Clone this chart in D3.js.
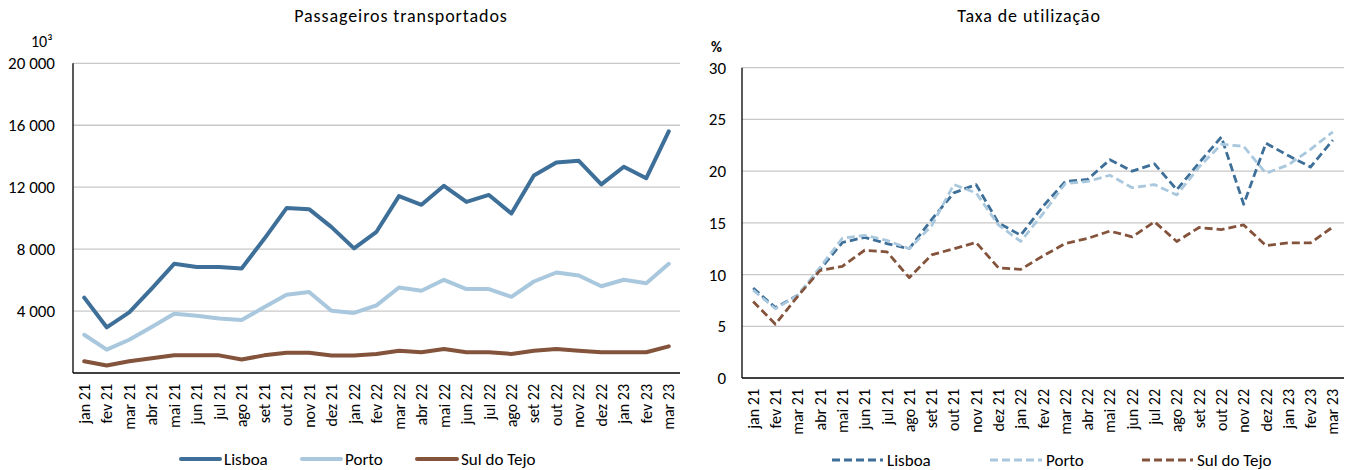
<!DOCTYPE html>
<html><head><meta charset="utf-8">
<script src="https://cdn.jsdelivr.net/npm/d3@7"></script>
<style>body{margin:0;background:#fff}svg{display:block}text{font-family:Carlito,Lato,"Open Sans",sans-serif;fill:#000}</style>
</head><body><svg id="c" width="1347" height="470"></svg>
<script>
const months = ["jan 21","fev 21","mar 21","abr 21","mai 21","jun 21","jul 21","ago 21","set 21","out 21","nov 21","dez 21","jan 22","fev 22","mar 22","abr 22","mai 22","jun 22","jul 22","ago 22","set 22","out 22","nov 22","dez 22","jan 23","fev 23","mar 23"];
const seriesNames = ["Lisboa","Porto","Sul do Tejo"];
const paxLisboa = [4870,2950,3910,5450,7050,6850,6850,6750,8650,10650,10580,9420,8050,9120,11420,10860,12090,11050,11500,10300,12750,13600,13700,12180,13320,12580,15610];
const paxPorto = [2470,1510,2150,2970,3830,3700,3520,3420,4240,5050,5230,4020,3880,4370,5520,5310,6020,5420,5420,4920,5910,6490,6300,5600,6020,5800,7050];
const paxSul = [760,480,760,950,1140,1140,1140,870,1140,1310,1310,1130,1130,1230,1440,1340,1550,1340,1340,1230,1440,1550,1440,1340,1340,1340,1720];
const taxaLisboa = [8.7,6.8,8.0,10.5,13.1,13.6,13.0,12.5,15.3,17.9,18.7,15.0,13.8,16.6,19.0,19.2,21.1,20.0,20.7,18.2,20.8,23.3,16.8,22.7,21.5,20.4,23.0];
const taxaPorto = [8.5,6.7,8.0,10.7,13.5,13.8,13.3,12.5,14.7,18.7,17.9,14.8,13.2,15.9,18.8,19.0,19.6,18.4,18.7,17.7,20.4,22.6,22.4,19.8,20.6,22.1,23.8];
const taxaSul = [7.4,5.2,7.9,10.4,10.8,12.35,12.2,9.7,11.9,12.5,13.1,10.65,10.5,11.8,13.0,13.5,14.2,13.65,15.1,13.2,14.55,14.35,14.8,12.8,13.06,13.06,14.6];
const leftTicks = [4000,8000,12000,16000,20000];
const rightTicks = [0,5,10,15,20,25,30];
const colors = ["#3d6f98","#a9c8de","#84533c"];

const svg = d3.select("#c");
const fmt = v => d3.format(",")(v).replace(/,/g," ");

function panel(o){
  const g = svg.append("g");
  const x = d3.scaleBand().domain(months).range([o.x0,o.x1]);
  const y = d3.scaleLinear().domain(o.domain).range([o.y1,o.y0]);
  g.selectAll("line.grid").data(o.ticks.filter(t=>t!==o.domain[0])).join("line")
    .attr("x1",o.x0).attr("x2",o.x1).attr("y1",d=>y(d)).attr("y2",d=>y(d))
    .attr("stroke","#c8c8c8").attr("stroke-width",1.3);
  const ya = g.append("g").attr("transform",`translate(${o.x0},0)`)
    .call(d3.axisLeft(y).tickValues(o.ticks).tickSize(0).tickPadding(o.ypad).tickFormat(fmt));
  ya.select(".domain").remove();
  ya.selectAll("text").style("font-size","17px").style("font-family","Carlito,Lato,sans-serif").attr("fill","#000");
  g.append("line").attr("x1",o.x0).attr("x2",o.x0).attr("y1",o.y0).attr("y2",o.y1).attr("stroke","#000").attr("stroke-width",1.3);
  const xa = g.append("g").attr("transform",`translate(0,${o.y1})`)
    .call(d3.axisBottom(x).tickSize(0).tickPadding(0));
  xa.select(".domain").remove();
  xa.selectAll("text").attr("transform","rotate(-90)").attr("text-anchor","end")
    .attr("x",-11).attr("y",0).attr("dy","0.35em")
    .style("font-size","16px").style("font-family","Carlito,Lato,sans-serif").attr("fill","#000");
  g.append("line").attr("x1",o.x0).attr("x2",o.x1).attr("y1",o.y1).attr("y2",o.y1).attr("stroke","#000").attr("stroke-width",1.3);
  const line = d3.line().x((d,i)=>x(months[i])+x.bandwidth()/2).y(d=>y(d));
  o.series.forEach((s,k)=>{
    g.append("path").datum(s).attr("d",line).attr("fill","none")
      .attr("stroke",colors[k]).attr("stroke-width",o.lw)
      .attr("stroke-linejoin","round").attr("stroke-linecap",o.dash?"butt":"round")
      .attr("stroke-dasharray",o.dash||null);
  });
  g.append("text").attr("x",o.tx).attr("y",22).attr("text-anchor","middle")
    .style("font-size","18px").style("letter-spacing","0.9px").text(o.title);
  o.legend.forEach((L,k)=>{
    g.append("line").attr("x1",L[0]).attr("x2",L[1]).attr("y1",o.ly).attr("y2",o.ly)
      .attr("stroke",colors[k]).attr("stroke-width",o.lw).attr("stroke-dasharray",o.dash||null)
      .attr("stroke-linecap",o.dash?"butt":"round");
    g.append("text").attr("x",L[1]+4).attr("y",o.ly).attr("dy","0.35em")
      .style("font-size","17px").text(seriesNames[k]);
  });
  return g;
}

panel({x0:73,x1:680,y0:63.3,y1:373,domain:[0,20000],ticks:leftTicks,ypad:18,
  series:[paxLisboa,paxPorto,paxSul],lw:4,dash:null,title:"Passageiros transportados",tx:401,
  legend:[[181,220],[302,341],[417,457]],ly:459});
panel({x0:742,x1:1344,y0:67.7,y1:378,domain:[0,30],ticks:rightTicks,ypad:16,
  series:[taxaLisboa,taxaPorto,taxaSul],lw:2.8,dash:"8,4",title:"Taxa de utilização",tx:1029,
  legend:[[832,883],[990,1042],[1142,1193]],ly:460});

svg.append("text").attr("x",31).attr("y",47).style("font-size","16px").text("10³");
svg.append("text").attr("x",711).attr("y",52).style("font-size","15px").style("font-weight","bold").text("%");
</script></body></html>
